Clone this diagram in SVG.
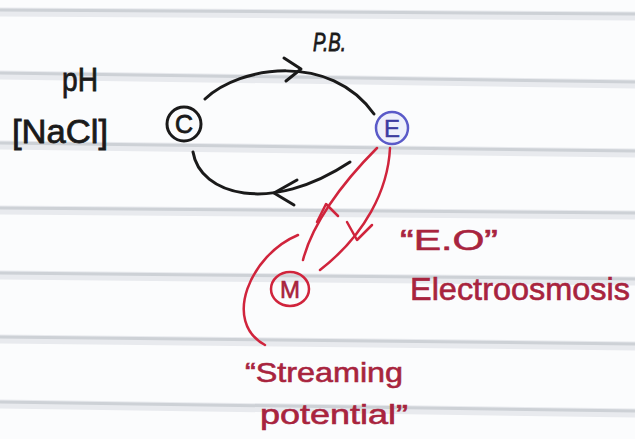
<svg xmlns="http://www.w3.org/2000/svg" width="635" height="439" viewBox="0 0 635 439">
  <style>
    .rule { stroke: #cdd1d6; stroke-width: 3; fill: none; }
    .ruleSoft { stroke: #e8eaee; stroke-width: 9; fill: none; }
    .ink { stroke: #1a1a1a; stroke-width: 3; fill: none; stroke-linecap: round; stroke-linejoin: round; }
    .red { stroke: #d0243c; stroke-width: 2.5; fill: none; stroke-linecap: round; stroke-linejoin: round; }
    .blk { font-family: "Liberation Sans", "DejaVu Sans", sans-serif; fill: #1a1a1a; stroke: #1a1a1a; stroke-width: 0.8; }
    .rtxt { font-family: "Liberation Sans", "DejaVu Sans", sans-serif; fill: #a8243e; stroke: #a8243e; stroke-width: 0.6; }
  </style>
  <rect width="635" height="439" fill="#fbfcfd"/>
  <g id="paper-lines">
    <line class="ruleSoft" x1="0" y1="12" x2="635" y2="16"/>
    <line class="ruleSoft" x1="0" y1="75" x2="635" y2="84"/>
    <line class="ruleSoft" x1="0" y1="145" x2="635" y2="153"/>
    <line class="ruleSoft" x1="0" y1="210" x2="635" y2="215"/>
    <line class="ruleSoft" x1="0" y1="275" x2="635" y2="281"/>
    <line class="ruleSoft" x1="0" y1="339" x2="635" y2="346"/>
    <line class="ruleSoft" x1="0" y1="404" x2="635" y2="413"/>
    <line class="rule" x1="0" y1="10" x2="635" y2="14"/>
    <line class="rule" x1="0" y1="73" x2="635" y2="82"/>
    <line class="rule" x1="0" y1="143" x2="635" y2="151"/>
    <line class="rule" x1="0" y1="208" x2="635" y2="213"/>
    <line class="rule" x1="0" y1="273" x2="635" y2="279"/>
    <line class="rule" x1="0" y1="337" x2="635" y2="344"/>
    <line class="rule" x1="0" y1="402" x2="635" y2="411"/>
  </g>
  <g id="connectors">
    <path class="ink" d="M205,99 C240,66 330,52 374,114"/>
    <path class="ink" d="M284,58 L301,69 L286,81"/>
    <path class="ink" d="M193,152 C200,195 270,215 350,162"/>
    <path class="ink" d="M297,180 L274,193 L294,205"/>
    <path class="red" d="M303,260 C312,225 340,185 377,148"/>
    <path class="red" d="M317,222 L326,204 L338,216"/>
    <path class="red" d="M390,148 C388,190 365,235 320,270"/>
    <path class="red" d="M347,222 L357,240 L372,225"/>
    <path class="red" d="M298,235 C250,255 222,322 265,345"/>
  </g>
  <g id="node-C">
    <circle cx="184" cy="124" r="17" fill="none" stroke="#1a1a1a" stroke-width="3"/>
    <text class="blk" x="184" y="133" font-size="25" text-anchor="middle">C</text>
  </g>
  <g id="node-E">
    <circle cx="392" cy="128" r="16" fill="#eef0fb" stroke="#5a5ac8" stroke-width="2.5"/>
    <text x="392" y="137" font-size="24" text-anchor="middle" font-family="Liberation Sans, DejaVu Sans, sans-serif" fill="#3c3ca0" stroke="#3c3ca0" stroke-width="0.5">E</text>
  </g>
  <g id="node-M">
    <ellipse cx="290" cy="289" rx="19" ry="17" fill="none" stroke="#d0243c" stroke-width="2.5"/>
    <text class="rtxt" x="290" y="298" font-size="24" text-anchor="middle">M</text>
  </g>
  <g id="labels">
    <text class="blk" x="62" y="91" font-size="34" textLength="36" lengthAdjust="spacingAndGlyphs">pH</text>
    <text class="blk" x="12" y="143" font-size="34" textLength="96" lengthAdjust="spacingAndGlyphs">[NaCl]</text>
    <text class="blk" x="313" y="51" font-size="25" font-style="italic" textLength="33" lengthAdjust="spacingAndGlyphs">P.B.</text>
    <text class="rtxt" x="400" y="250" font-size="30" textLength="98" lengthAdjust="spacingAndGlyphs">“E.O”</text>
    <text class="rtxt" x="410" y="300" font-size="31" textLength="220" lengthAdjust="spacingAndGlyphs">Electroosmosis</text>
    <text class="rtxt" x="245" y="382" font-size="28" textLength="158" lengthAdjust="spacingAndGlyphs">“Streaming</text>
    <text class="rtxt" x="260" y="424" font-size="28" textLength="148" lengthAdjust="spacingAndGlyphs">potential”</text>
  </g>
</svg>
